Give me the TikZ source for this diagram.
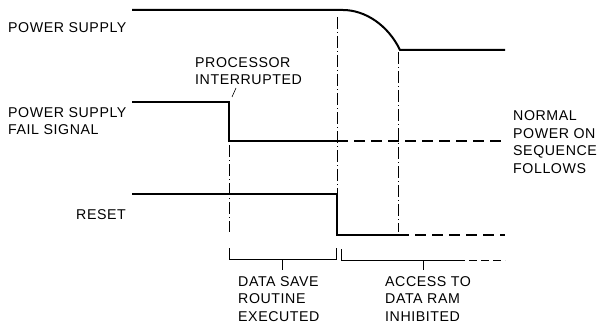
\documentclass[tikz,border=0pt]{standalone}
\usepackage{fontspec}
\setmainfont{Liberation Sans}[LetterSpace=4]
\begin{document}
\begin{tikzpicture}[x=1pt,y=-1pt,
  sig/.style={line width=2pt},
  sigdash/.style={line width=2pt,dash pattern=on 11pt off 6pt},
  guide/.style={line width=0.6pt,dash pattern=on 12pt off 3pt on 1pt off 3pt},
  brk/.style={line width=0.9pt},
  lbl/.style={font=\fontsize{14.2}{17.5}\selectfont,align=left,inner sep=0pt,anchor=west}]
\useasboundingbox (0,0) rectangle (597,329);
% coordinates
\coordinate (ps0) at (132,10);
\coordinate (ps1) at (343,10);
\coordinate (ps2) at (400,50);
\coordinate (ps3) at (505,50);
\coordinate (pf0) at (132,102);
\coordinate (pf1) at (229,102);
\coordinate (pf2) at (229,141);
\coordinate (pf3) at (337,141);
\coordinate (pf4) at (505,141);
\coordinate (rs0) at (132,194);
\coordinate (rs1) at (337,194);
\coordinate (rs2) at (337,235);
\coordinate (rs3) at (398,235);
\coordinate (rs4) at (505,235);
% signals
\draw[sig] (ps0) -- (ps1) .. controls (365,10) and (388,25) .. (ps2) -- (ps3);
\draw[sig] (pf0) -- (pf1) -- (pf2) -- (pf3);
\draw[sigdash] (pf3) -- (pf4);
\draw[sig] (rs0) -- (rs1) -- (rs2) -- (rs3);
\draw[sigdash] (rs3) -- (rs4);
% guides
\coordinate (g1a) at (229,145);
\coordinate (g1b) at (229,232);
\coordinate (g2a) at (337,17);
\coordinate (g3a) at (398,52);
\coordinate (g3b) at (398,232);
\draw[guide] (g1a) -- (g1b);
\draw[guide] (g2a) -- (rs1);
\draw[guide] (g3a) -- (g3b);
% brackets
\coordinate (b1a) at (229,248);
\coordinate (b1b) at (229,259);
\coordinate (b1c) at (336,259);
\coordinate (b1d) at (336,248);
\coordinate (b1m) at (282,259);
\coordinate (b1t) at (282,270);
\draw[brk] (b1a) -- (b1b) -- (b1c) -- (b1d);
\draw[brk] (b1m) -- (b1t);
\coordinate (b2a) at (341,249);
\coordinate (b2b) at (341,260);
\coordinate (b2c) at (457,260);
\coordinate (b2d) at (505,260);
\coordinate (b2m) at (423,260);
\coordinate (b2t) at (423,270);
\draw[brk] (b2a) -- (b2b) -- (b2c);
\draw[brk,dash pattern=on 8pt off 4pt] (b2c) -- (b2d);
\draw[brk] (b2m) -- (b2t);
% labels
\node[lbl] (lps) at (8,28) {POWER SUPPLY};
\node[lbl] (lpf) at (8,121) {POWER SUPPLY\\FAIL SIGNAL};
\node[lbl] (lrs) at (76,215) {RESET};
\node[lbl] (lpi) at (195,71) {PROCESSOR\\INTERRUPTED};
\coordinate (pil) at (236,88);
\draw[line width=0.6pt] (pil) -- (232,97);
\node[lbl] (lnp) at (513,142) {NORMAL\\POWER ON\\SEQUENCE\\FOLLOWS};
\node[lbl] (lds) at (238,299) {DATA SAVE\\ROUTINE\\EXECUTED};
\node[lbl] (lac) at (385,299) {ACCESS TO\\DATA RAM\\INHIBITED};
\end{tikzpicture}
\end{document}
